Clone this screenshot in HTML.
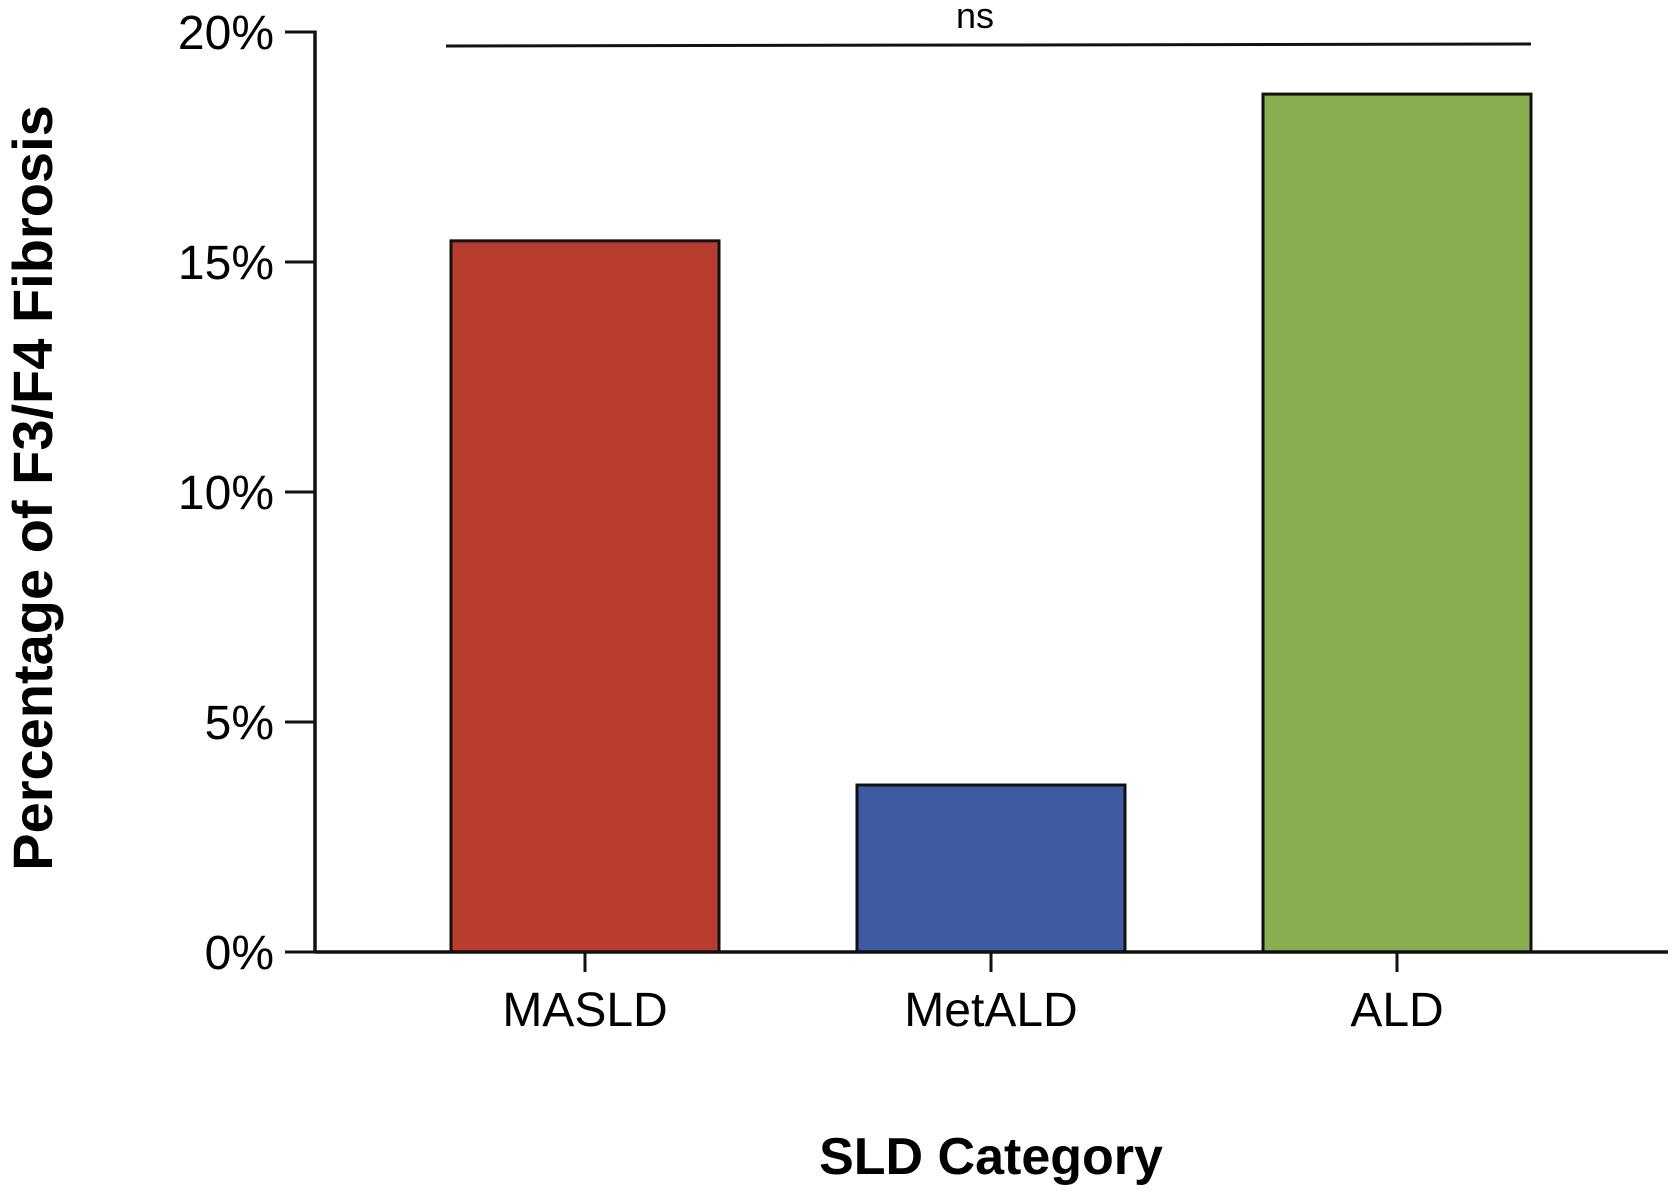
<!DOCTYPE html>
<html><head><meta charset="utf-8"><style>
html,body{margin:0;padding:0;background:#fff;}
svg{display:block;font-family:"Liberation Sans",Arial,sans-serif;}
</style></head><body>
<svg id="chart" width="1675" height="1192" viewBox="0 0 1675 1192" xmlns="http://www.w3.org/2000/svg">
<g id="plot"></g>
<text transform="translate(52,488) rotate(-90)" text-anchor="middle" font-size="56" font-weight="bold" fill="#000">Percentage of F3/F4 Fibrosis</text>
<text x="991" y="1174" text-anchor="middle" font-size="52" font-weight="bold" fill="#000">SLD Category</text>
</svg>
<script>
const categories = ["MASLD", "MetALD", "ALD"];
const values = [15.46, 3.63, 18.65];
const colors = ["#b93d2f", "#3e5aa3", "#8aad50"];
const yTicks = [0, 5, 10, 15, 20];
const yTickLabels = ["0%", "5%", "10%", "15%", "20%"];
const sigLabel = "ns";

const NS = "http://www.w3.org/2000/svg";
const g = document.getElementById("plot");
const x0 = 315, y0 = 952, yTop = 32, xEnd = 1668;
const firstCenter = 585, step = 406, barW = 268;
function yScale(v){ return y0 - (v/20)*(y0 - yTop); }
function xScale(i){ return firstCenter + i*step; }
function mk(tag, attrs){ const e=document.createElementNS(NS,tag); for(const k in attrs) e.setAttribute(k, attrs[k]); g.appendChild(e); return e; }

categories.forEach((c,i)=>{
  const top = yScale(values[i]);
  const r = mk("rect",{x:xScale(i)-barW/2, y:top, width:barW, height:y0-top, fill:colors[i], stroke:"#111", "stroke-width":3});
  
  
  const t = mk("line",{x1:xScale(i), x2:xScale(i), y1:y0, y2:972, stroke:"#111", "stroke-width":3});
  
  
  const l = mk("text",{x:xScale(i), y:1026, "text-anchor":"middle", "font-size":48, fill:"#000"});
  l.textContent = c;
  
  
});

yTicks.forEach((v,i)=>{
  const y = yScale(v);
  const t = mk("line",{x1:285, x2:x0, y1:y, y2:y, stroke:"#111", "stroke-width":3});
  
  
  const l = mk("text",{x:274, y:y+17, "text-anchor":"end", "font-size":48, fill:"#000"});
  l.textContent = yTickLabels[i];
  
  
});

const ya = mk("line",{x1:x0, x2:x0, y1:yTop-1.5, y2:y0+1.5, stroke:"#111", "stroke-width":3.5});


const xa = mk("line",{x1:x0, x2:xEnd, y1:y0, y2:y0, stroke:"#111", "stroke-width":3.5});



const sb = mk("line",{x1:xScale(0)-139, x2:xScale(2)+134, y1:46, y2:44, stroke:"#111", "stroke-width":3});


const st = mk("text",{x:(xScale(0)+xScale(2))/2-16, y:28, "text-anchor":"middle", "font-size":36, fill:"#000"});
st.textContent = sigLabel;


</script>
</body></html>
